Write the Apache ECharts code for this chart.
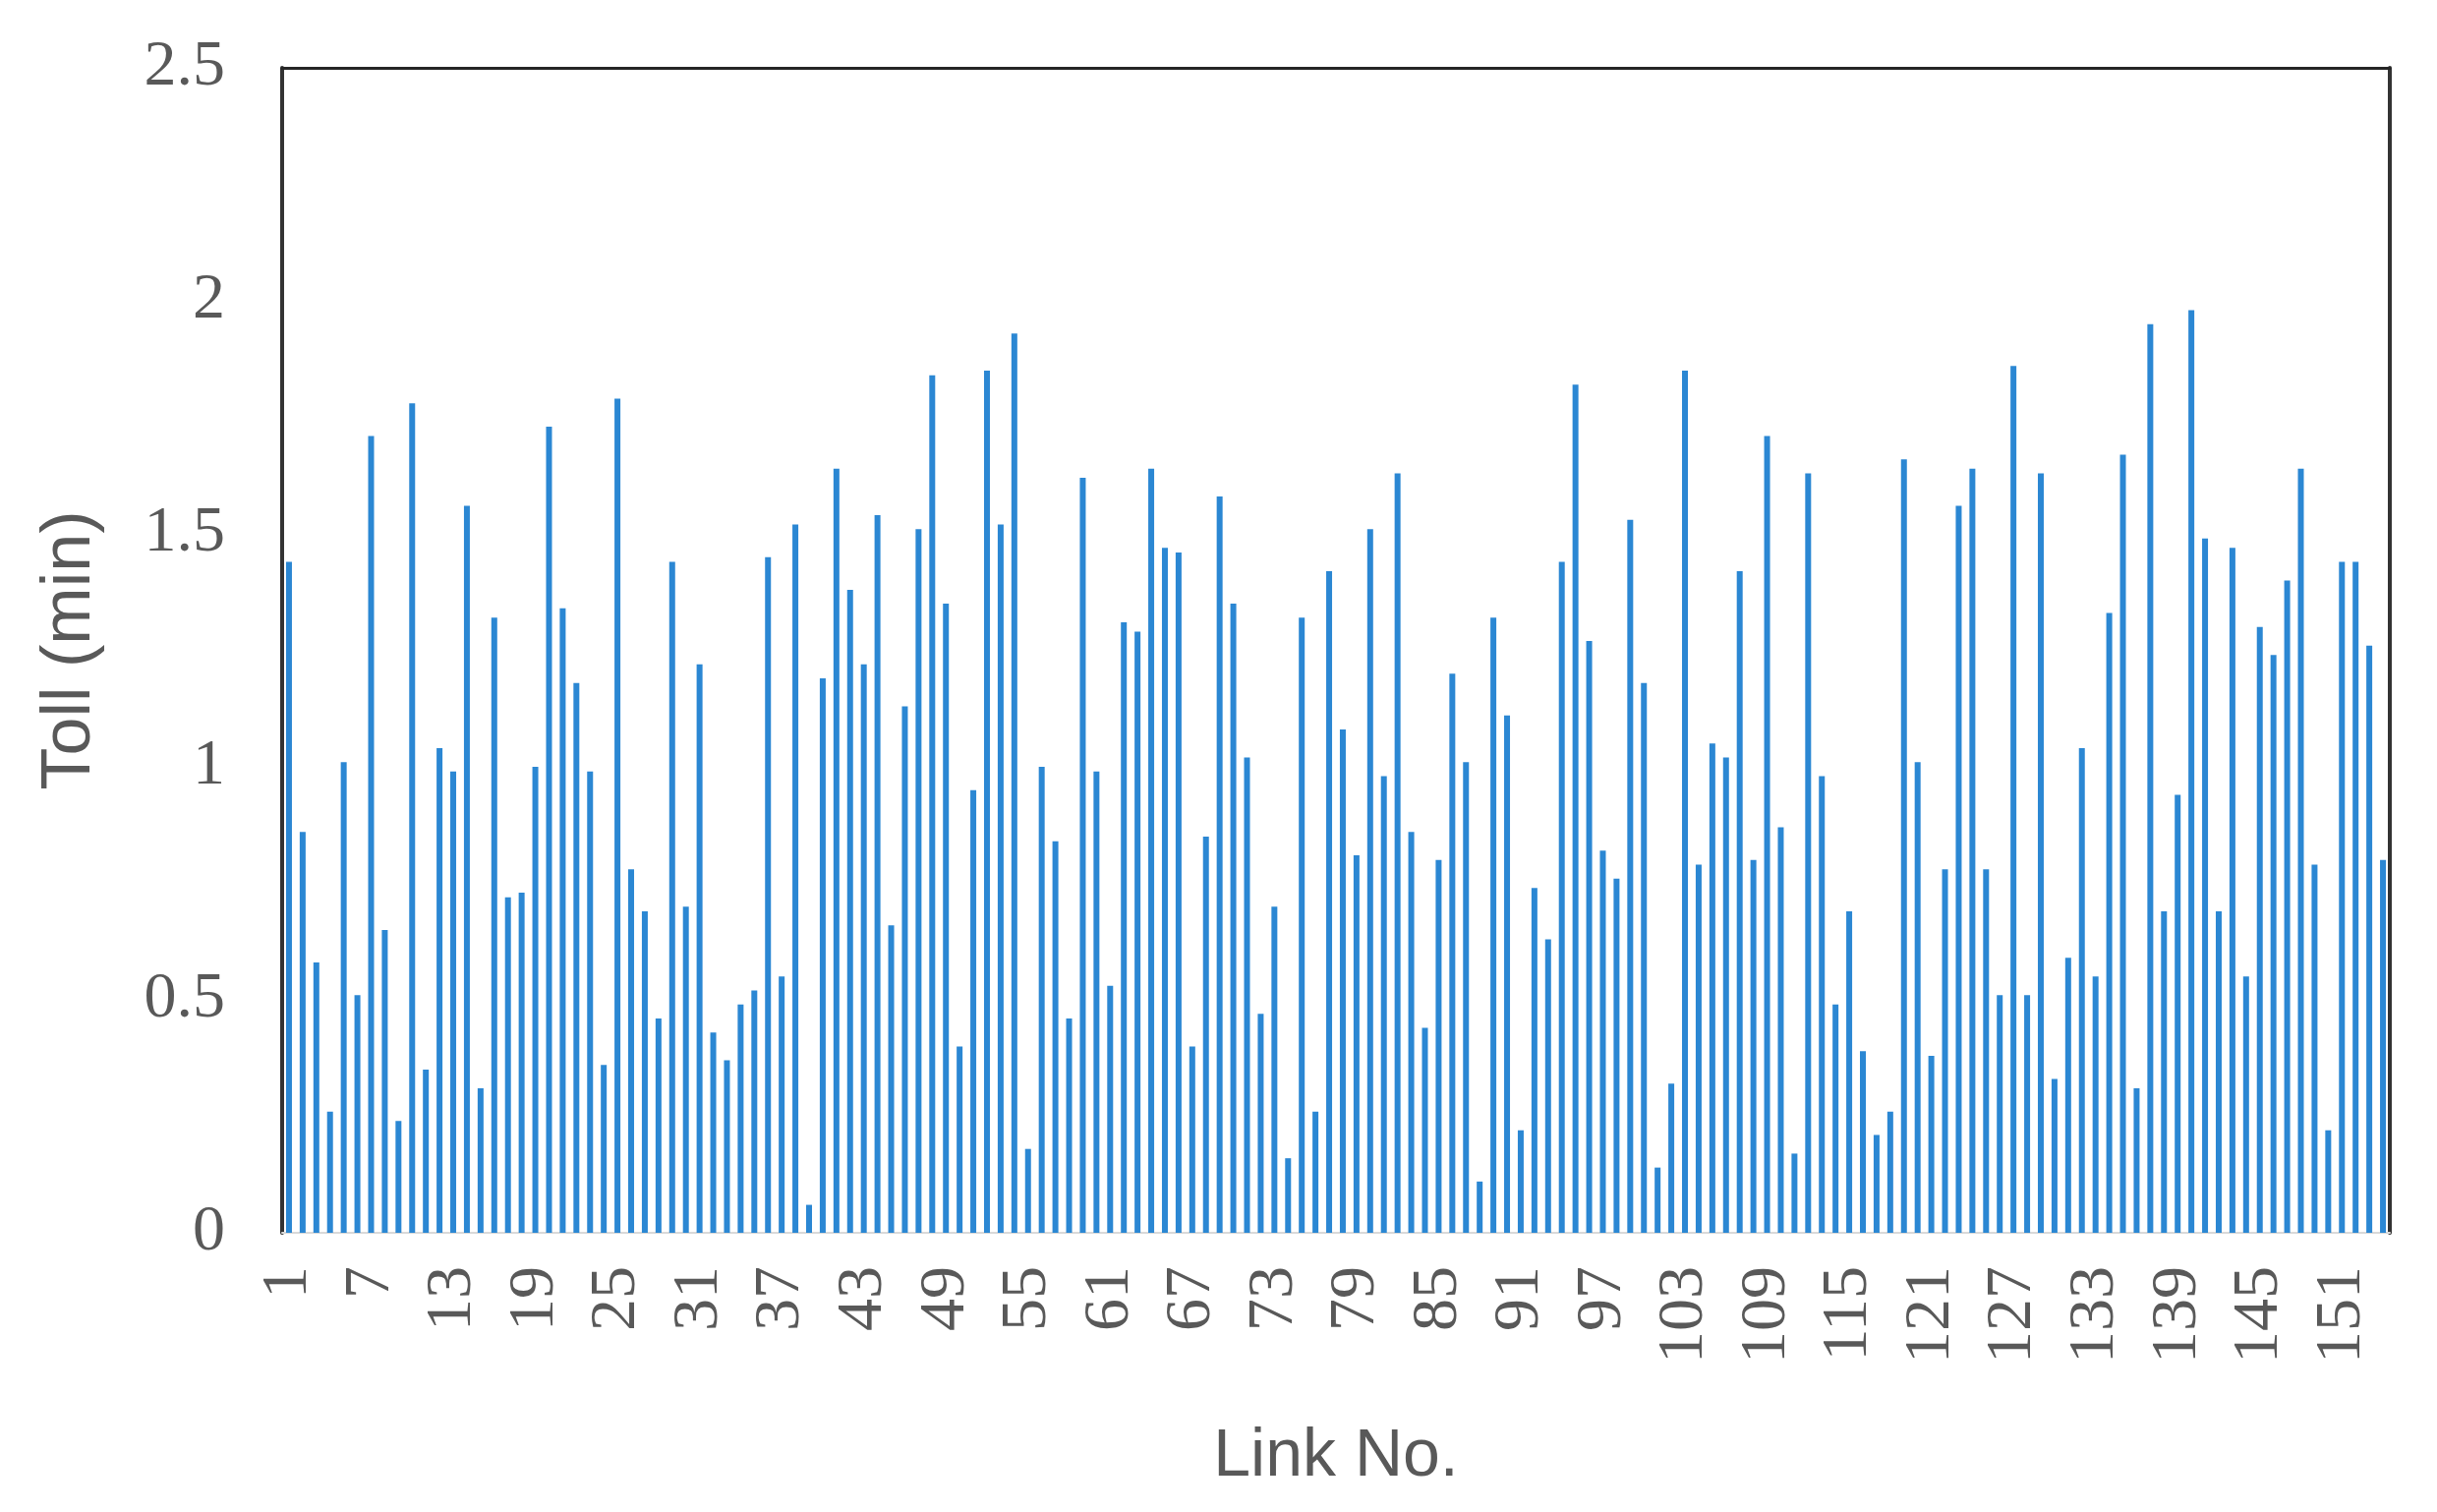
<!DOCTYPE html>
<html>
<head>
<meta charset="utf-8">
<script src="https://cdn.jsdelivr.net/npm/echarts@6/dist/echarts.min.js"></script>
<style>
    html, body {margin: 0; padding: 0; background: #fff;}
    #chart_main {width: 2479px; height: 1538px;}
</style>
</head>
<body>
<div id="chart_main"></div>
<script>
// toll per link (min)
let toll_1_50 = [
    1.44, 0.86, 0.58, 0.26, 1.01, 0.51, 1.71, 0.65, 0.24, 1.78,
    0.35, 1.04, 0.99, 1.56, 0.31, 1.32, 0.72, 0.73, 1.00, 1.73,
    1.34, 1.18, 0.99, 0.36, 1.79, 0.78, 0.69, 0.46, 1.44, 0.70,
    1.22, 0.43, 0.37, 0.49, 0.52, 1.45, 0.55, 1.52, 0.06, 1.19,
    1.64, 1.38, 1.22, 1.54, 0.66, 1.13, 1.51, 1.84, 1.35, 0.40
];
let toll_51_100 = [
    0.95, 1.85, 1.52, 1.93, 0.18, 1.00, 0.84, 0.46, 1.62, 0.99,
    0.53, 1.31, 1.29, 1.64, 1.47, 1.46, 0.40, 0.85, 1.58, 1.35,
    1.02, 0.47, 0.70, 0.16, 1.32, 0.26, 1.42, 1.08, 0.81, 1.51,
    0.98, 1.63, 0.86, 0.44, 0.80, 1.20, 1.01, 0.11, 1.32, 1.11,
    0.22, 0.74, 0.63, 1.44, 1.82, 1.27, 0.82, 0.76, 1.53, 1.18
];
let toll_101_154 = [
    0.14, 0.32, 1.85, 0.79, 1.05, 1.02, 1.42, 0.80, 1.71, 0.87,
    0.17, 1.63, 0.98, 0.49, 0.69, 0.39, 0.21, 0.26, 1.66, 1.01,
    0.38, 0.78, 1.56, 1.64, 0.78, 0.51, 1.86, 0.51, 1.63, 0.33,
    0.59, 1.04, 0.55, 1.33, 1.67, 0.31, 1.95, 0.69, 0.94, 1.98,
    1.49, 0.69, 1.47, 0.55, 1.30, 1.24, 1.40, 1.64, 0.79, 0.22,
    1.44, 1.44, 1.26, 0.80
];
let y_ticks = ['0', '0.5', '1', '1.5', '2', '2.5'];

let toll_data = toll_1_50.concat(toll_51_100, toll_101_154);
let link_no = [];
for (let i = 1; i <= toll_data.length; i++) {
    link_no.push(String(i));
}

let myChart = echarts.init(document.getElementById('chart_main'));
let serif = '"Liberation Serif", "Times New Roman", serif';
let sans = '"Liberation Sans", Arial, sans-serif';

let option = {
    animation: false,
    backgroundColor: '#ffffff',
    grid: {left: 287, right: 48, top: 69, bottom: 284, containLabel: false},
    xAxis: [{
        type: 'category',
        data: link_no,
        name: 'Link No.',
        nameLocation: 'middle',
        nameGap: 194,
        nameTextStyle: {fontFamily: sans, fontSize: 68, color: '#595959'},
        axisLine: {show: true, onZero: false, lineStyle: {color: '#d9d9d9', width: 2}},
        axisTick: {show: false},
        axisLabel: {
            interval: 5,
            rotate: 90,
            margin: 34,
            fontFamily: serif,
            fontSize: 66,
            color: '#595959'
        }
    }, {
        // top frame line
        type: 'category',
        data: link_no,
        position: 'top',
        axisLine: {show: true, onZero: false, lineStyle: {color: '#262626', width: 3}},
        axisTick: {show: false},
        axisLabel: {show: false}
    }],
    yAxis: [{
        type: 'value',
        min: 0,
        max: 2.5,
        interval: 0.5,
        name: 'Toll (min)',
        nameLocation: 'middle',
        nameGap: 180,
        nameTextStyle: {fontFamily: sans, fontSize: 70, color: '#595959'},
        axisLine: {show: true, onZero: false, lineStyle: {color: '#333333', width: 4}},
        axisTick: {show: false},
        splitLine: {show: false},
        axisLabel: {
            margin: 58,
            fontFamily: serif,
            fontSize: 66,
            color: '#595959',
            formatter: function (v) {
                return y_ticks[Math.round(v / 0.5)];
            }
        }
    }, {
        // right frame line
        type: 'value',
        min: 0,
        max: 2.5,
        position: 'right',
        axisLine: {show: true, onZero: false, lineStyle: {color: '#333333', width: 4}},
        axisTick: {show: false},
        axisLabel: {show: false},
        splitLine: {show: false}
    }],
    series: [{
        name: 'Toll',
        type: 'bar',
        data: toll_data,
        barWidth: 6,
        itemStyle: {color: '#2b87d3'}
    }]
};
myChart.setOption(option);
</script>
</body>
</html>
